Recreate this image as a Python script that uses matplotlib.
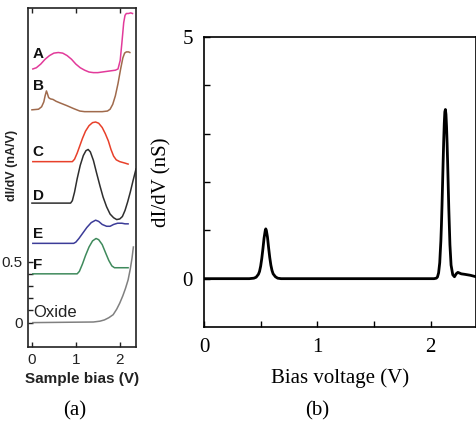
import matplotlib
matplotlib.use("Agg")
import matplotlib.pyplot as plt

# ---- panel (a): offset dI/dV spectra ----
a_x = [0.02, 0.1, 0.2, 0.3, 0.4, 0.5, 0.6, 0.7, 0.8, 0.9, 1.0, 1.1, 1.2, 1.3, 1.4, 1.5,
       1.6, 1.7, 1.8, 1.9, 1.96, 2.01, 2.05, 2.09, 2.12, 2.15, 2.2, 2.25, 2.29]
a_y = [2.08, 2.09, 2.12, 2.16, 2.19, 2.21, 2.215, 2.21, 2.19, 2.16, 2.12, 2.09, 2.07, 2.055,
       2.05, 2.05, 2.055, 2.06, 2.065, 2.07, 2.08, 2.15, 2.30, 2.46, 2.52, 2.535, 2.535, 2.54, 2.535]

b_x = [0.0, 0.15, 0.22, 0.27, 0.30, 0.33, 0.35, 0.38, 0.42, 0.48, 0.55, 0.65, 0.79, 0.95,
       1.09, 1.2, 1.4, 1.6, 1.72, 1.78, 1.84, 1.90, 1.96, 2.02, 2.07, 2.11, 2.15, 2.2, 2.23]
b_y = [1.745, 1.75, 1.77, 1.81, 1.86, 1.90, 1.88, 1.845, 1.835, 1.83, 1.815, 1.80, 1.78, 1.755,
       1.735, 1.73, 1.73, 1.73, 1.735, 1.75, 1.79, 1.86, 1.96, 2.08, 2.17, 2.21, 2.22, 2.22, 2.215]

c_x = [0.02, 0.92, 0.97, 1.03, 1.09, 1.15, 1.22, 1.30, 1.38, 1.45, 1.52, 1.60, 1.67, 1.74,
       1.80, 1.86, 1.92, 2.0, 2.1, 2.19]
c_y = [1.32, 1.32, 1.34, 1.39, 1.45, 1.51, 1.57, 1.615, 1.64, 1.645, 1.635, 1.60, 1.55, 1.49,
       1.42, 1.365, 1.335, 1.32, 1.31, 1.30]

d_x = [0.0, 0.88, 0.92, 0.97, 1.03, 1.10, 1.17, 1.23, 1.28, 1.33, 1.40, 1.47, 1.55, 1.62,
       1.70, 1.78, 1.86, 1.93, 2.0, 2.06, 2.12, 2.18, 2.24, 2.30, 2.37]
d_y = [0.98, 0.98, 1.00, 1.07, 1.18, 1.29, 1.37, 1.41, 1.42, 1.40, 1.33, 1.23, 1.12, 1.03,
       0.95, 0.89, 0.86, 0.845, 0.85, 0.87, 0.92, 0.99, 1.07, 1.16, 1.26]

e_x = [0.02, 0.95, 1.0, 1.07, 1.15, 1.25, 1.35, 1.45, 1.52, 1.60, 1.70, 1.78, 1.86, 1.95,
       2.05, 2.12, 2.19]
e_y = [0.65, 0.65, 0.66, 0.69, 0.73, 0.78, 0.82, 0.84, 0.83, 0.805, 0.79, 0.79, 0.805, 0.815,
       0.815, 0.81, 0.81]

f_x = [0.02, 1.03, 1.08, 1.15, 1.22, 1.30, 1.38, 1.46, 1.52, 1.60, 1.68, 1.75, 1.82, 1.88,
       2.0, 2.19]
f_y = [0.40, 0.40, 0.42, 0.48, 0.55, 0.62, 0.67, 0.69, 0.68, 0.64, 0.57, 0.51, 0.465, 0.45,
       0.45, 0.45]

ox_x = [0.02, 1.4, 1.55, 1.65, 1.75, 1.85, 1.93, 2.0, 2.07, 2.13, 2.19, 2.24, 2.28, 2.31]
ox_y = [0.0, 0.005, 0.012, 0.022, 0.04, 0.065, 0.11, 0.16, 0.22, 0.28, 0.35, 0.44, 0.53, 0.62]

curves_a = [
    ("A", a_x, a_y, "#e23a9a", 2.20),
    ("B", b_x, b_y, "#a06a4c", 1.94),
    ("C", c_x, c_y, "#e8402a", 1.40),
    ("D", d_x, d_y, "#2e2e2e", 1.04),
    ("E", e_x, e_y, "#3c3c98", 0.73),
    ("F", f_x, f_y, "#3f8a5c", 0.47),
    ("Oxide", ox_x, ox_y, "#808080", 0.08),
]

# ---- panel (b): single dI/dV spectrum ----
bias_v = [0.0, 0.40, 0.44, 0.46, 0.48, 0.49, 0.50, 0.51, 0.52, 0.53, 0.54, 0.545, 0.55,
          0.56, 0.57, 0.58, 0.59, 0.60, 0.61, 0.63, 0.65, 0.68, 2.03, 2.05, 2.06, 2.07,
          2.08, 2.085, 2.09, 2.095, 2.10, 2.105, 2.11, 2.115, 2.12, 2.125, 2.13, 2.135,
          2.14, 2.145, 2.15, 2.16, 2.17, 2.18, 2.195, 2.21, 2.225, 2.24, 2.25, 2.27,
          2.30, 2.35, 2.40]
didv_ns = [0.0, 0.0, 0.01, 0.03, 0.09, 0.15, 0.26, 0.42, 0.62, 0.84, 0.99, 1.03, 1.00,
           0.86, 0.64, 0.44, 0.28, 0.17, 0.10, 0.04, 0.01, 0.0, 0.0, 0.01, 0.035, 0.12,
           0.33, 0.56, 0.78, 1.11, 1.51, 1.96, 2.42, 2.85, 3.21, 3.45, 3.50, 3.40,
           3.15, 2.80, 2.38, 1.45, 0.70, 0.28, 0.08, 0.04, 0.10, 0.13, 0.12, 0.10,
           0.09, 0.07, 0.04]

W, H = 477, 426
fig = plt.figure(figsize=(W / 100, H / 100), dpi=100)


def px_rect(left, top, right, bottom):
    return [left / W, 1 - bottom / H, (right - left) / W, (bottom - top) / H]


# panel (a)
sans = "Liberation Sans"
ink = "#222222"
axa = fig.add_axes(px_rect(28, 8, 136, 347))
for name, xs, ys, col, ly in curves_a:
    axa.plot(xs, ys, color=col, lw=1.1)
    if name == "Oxide":
        axa.text(0.03, ly, name, fontsize=12, family=sans, color=ink,
                 va="center", ha="left")
    else:
        axa.text(0.02, ly, name, fontsize=11, family=sans, fontweight="bold",
                 color="#111111", va="center", ha="left")
axa.set_xlim(-0.09, 2.37)
axa.set_ylim(-0.2, 2.58)
axa.set_xticks([0, 1, 2])
axa.set_xticklabels(["0", "1", "2"], family=sans, fontsize=11, color=ink)
axa.set_yticks([0, 0.1, 0.2, 0.3, 0.4, 0.5])
axa.set_yticklabels(["0", "", "", "", "", "0.5"], family=sans, fontsize=11, color=ink)
axa.tick_params(direction="in", length=3.5, width=1.0, top=True, colors=ink, pad=4)
for s in axa.spines.values():
    s.set_linewidth(1.2)
    s.set_color(ink)
axa.set_xlabel("Sample bias (V)", family=sans, fontsize=11, fontweight="bold",
               color=ink, labelpad=4)
fig.text(12 / W, 1 - 165 / H, "dI/dV (nA/V)", family=sans, fontsize=9,
         fontweight="bold", color=ink, rotation=90, ha="center", va="center")

# panel (b)
serif = "Liberation Serif"
axb = fig.add_axes(px_rect(204, 37, 476, 327))
axb.plot(bias_v, didv_ns, color="black", lw=2.0)
axb.set_xlim(0, 2.4)
axb.set_ylim(-1, 5)
axb.set_xticks([0, 0.5, 1, 1.5, 2])
axb.set_xticklabels(["0", "", "1", "", "2"], family=serif, fontsize=15)
axb.set_yticks([0, 1, 2, 3, 4, 5])
axb.set_yticklabels(["0", "", "", "", "", "5"], family=serif, fontsize=15)
axb.tick_params(direction="in", length=4, width=1.0, pad=8)
for s in axb.spines.values():
    s.set_linewidth(1.2)
axb.set_xlabel("Bias voltage (V)", family=serif, fontsize=15, labelpad=8)
axb.set_ylabel("dI/dV (nS)", family=serif, fontsize=15, labelpad=8)

fig.text(75 / W, 1 - 411 / H, "(a)", family=serif, fontsize=15, ha="center", va="center")
fig.text(317 / W, 1 - 411 / H, "(b)", family=serif, fontsize=15, ha="center", va="center")

fig.savefig("out.png", dpi=100)
